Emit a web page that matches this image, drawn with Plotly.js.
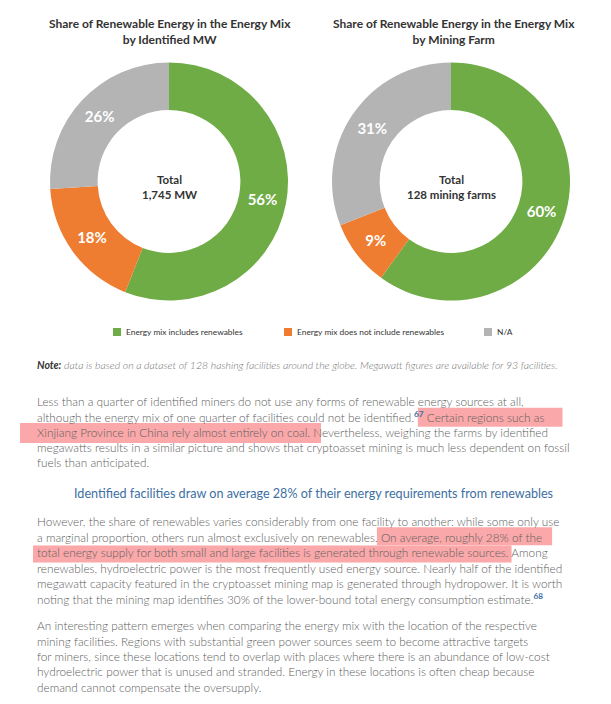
<!DOCTYPE html>
<html>
<head>
<meta charset="utf-8">
<script src="https://cdn.plot.ly/plotly-3.0.1.min.js"></script>
<style>
  html, body { margin: 0; padding: 0; background: #fff; }
  #chart { width: 611px; height: 704px; }
</style>
</head>
<body>
<div id="chart"></div>
<script>
// ---- Data ----
const categories = ["Energy mix includes renewables", "Energy mix does not include renewables", "N/A"];
const sliceColors = ["#6fac46", "#ee7d31", "#b4b4b4"];
const byMW = [56, 18, 26];
const byFarm = [60, 9, 31];
const chartTitles = [
  "Share of Renewable Energy in the Energy Mix<br>by Identified MW",
  "Share of Renewable Energy in the Energy Mix<br>by Mining Farm"
];
const centerLabels = ["Total<br>1,745 MW", "Total<br>128 mining farms"];
const noteText = "<b>Note:</b> <span style='color:#737373'>data is based on a dataset of 128 hashing facilities around the globe. Megawatt figures are available for 93 facilities.</span>";
const sup = n => "<span style='color:#3d6fa3'><b><sup>" + n + "</sup></b></span>";
const para1 = [
  "Less than a quarter of identified miners do not use any forms of renewable energy sources at all,",
  "although the energy mix of one quarter of facilities could not be identified." + sup("67") + " Certain regions such as",
  "Xinjiang Province in China rely almost entirely on coal. Nevertheless, weighing the farms by identified",
  "megawatts results in a similar picture and shows that cryptoasset mining is much less dependent on fossil",
  "fuels than anticipated."
];
const headingText = "Identified facilities draw on average 28% of their energy requirements from renewables";
const para2 = [
  "However, the share of renewables varies considerably from one facility to another: while some only use",
  "a marginal proportion, others run almost exclusively on renewables. On average, roughly 28% of the",
  "total energy supply for both small and large facilities is generated through renewable sources. Among",
  "renewables, hydroelectric power is the most frequently used energy source. Nearly half of the identified",
  "megawatt capacity featured in the cryptoasset mining map is generated through hydropower. It is worth",
  "noting that the mining map identifies 30% of the lower-bound total energy consumption estimate." + sup("68")
];
const para3 = [
  "An interesting pattern emerges when comparing the energy mix with the location of the respective",
  "mining facilities. Regions with substantial green power sources seem to become attractive targets",
  "for miners, since these locations tend to overlap with places where there is an abundance of low-cost",
  "hydroelectric power that is unused and stranded. Energy in these locations is often cheap because",
  "demand cannot compensate the oversupply."
];
// highlighted passages: paragraph, line, first words, last words
const highlights = [
  { para: "p1", line: 1, from: "Certain", to: "such as" },
  { para: "p1", line: 2, from: "Xinjiang", to: "coal. N" },
  { para: "p2", line: 1, from: "On average", to: "of the" },
  { para: "p2", line: 2, from: "total", to: "sources." }
];
// styling of the highlight boxes (left pad, right pad, top, bottom offsets in px)
const hlStyle = [[9, 18, -9, 10], [17, -1, -9, 11], [4, 10, -10, 8], [4, 3, -7, 10]];

// ---- Layout helpers ----
const W = 611, H = 704;
const px = x => x / W;
const py = y => 1 - y / H;
const FONT = "Lato, 'Open Sans', sans-serif";

function pieTrace(values, cx, cy, r) {
  return {
    type: "pie",
    values: values,
    labels: categories,
    marker: { colors: sliceColors, line: { width: 0 } },
    sort: false,
    direction: "clockwise",
    rotation: 0,
    hole: 0.6,
    texttemplate: "%{value}%",
    textposition: "inside",
    insidetextorientation: "horizontal",
    textfont: { family: FONT, size: 15, color: "#ffffff", weight: "bold" },
    showlegend: false,
    hoverinfo: "label+value",
    domain: { x: [px(cx - r), px(cx + r)], y: [py(cy + r), py(cy - r)] }
  };
}

const centers = [169, 451];
const data = [
  pieTrace(byMW, centers[0], 181.5, 119),
  pieTrace(byFarm, centers[1], 181.5, 119)
];

const annotations = [];
const shapes = [];

// chart titles
const titleCenters = [170, 454];
chartTitles.forEach((t, i) => {
  annotations.push({
    xref: "paper", yref: "paper", x: px(titleCenters[i]), y: py(32), xanchor: "center", yanchor: "middle",
    text: "<b>" + t + "</b>", showarrow: false, align: "center",
    font: { family: FONT, size: 12, color: "#333333" }
  });
});
// center labels
centerLabels.forEach((t, i) => {
  annotations.push({
    xref: "paper", yref: "paper", x: px(centers[i]), y: py(187), xanchor: "center", yanchor: "middle",
    text: "<b>" + t + "</b>", showarrow: false, align: "center",
    font: { family: FONT, size: 11.5, color: "#333333" }
  });
});
// legend (manual)
const legendX = [113, 284, 484];
categories.forEach((c, i) => {
  shapes.push({
    type: "rect", xref: "paper", yref: "paper",
    x0: px(legendX[i]), x1: px(legendX[i] + 8), y0: py(336), y1: py(328),
    fillcolor: sliceColors[i], line: { width: 0 }
  });
  annotations.push({
    xref: "paper", yref: "paper", x: px(legendX[i] + 11), y: py(332), xanchor: "left", yanchor: "middle",
    text: c, showarrow: false, font: { family: FONT, size: 8.4, color: "#333333" }
  });
});
// note
annotations.push({
  xref: "paper", yref: "paper", x: px(35), y: py(365), xanchor: "left", yanchor: "middle",
  text: "<i>" + noteText + "</i>", showarrow: false, font: { family: FONT, size: 10.5, color: "#333333", weight: 300 }
});

const lineIndex = {};
const lineY = {};
function addPara(key, lines, y0, step) {
  lineIndex[key] = []; lineY[key] = [];
  lines.forEach((l, i) => {
    lineIndex[key].push(annotations.length);
    lineY[key].push(y0 + i * step);
    annotations.push({
      xref: "paper", yref: "paper", x: px(35), y: py(y0 + i * step), xanchor: "left", yanchor: "middle",
      text: l, showarrow: false, font: { family: FONT, size: 11.8, color: "#606060", weight: 300 }
    });
  });
}
addPara("p1", para1, 401.5, 15.3);
annotations.push({
  xref: "paper", yref: "paper", x: px(313), y: py(493), xanchor: "center", yanchor: "middle",
  text: headingText, showarrow: false, font: { family: FONT, size: 12.6, color: "#3d6fa3" }
});
addPara("p2", para2, 521.7, 15.45);
addPara("p3", para3, 625.7, 15.35);

const layout = {
  width: W, height: H,
  margin: { l: 0, r: 0, t: 0, b: 0 },
  paper_bgcolor: "#ffffff",
  showlegend: false,
  annotations: annotations,
  shapes: shapes
};

Plotly.newPlot("chart", data, layout, { displayModeBar: false, staticPlot: true }).then(gd => {
  const extra = [];
  highlights.forEach((h, k) => {
    const idx = lineIndex[h.para][h.line];
    const el = gd.querySelector('.annotation[data-index="' + idx + '"] text.annotation-text');
    if (!el) return;
    const txt = el.textContent;
    const s = txt.indexOf(h.from);
    const e = txt.indexOf(h.to, s) + h.to.length - 1;
    if (s < 0 || e < s) return;
    const m = el.getScreenCTM();
    const toPage = (x, y) => { const p = el.ownerSVGElement.createSVGPoint(); p.x = x; p.y = y; return p.matrixTransform(m); };
    const a = el.getExtentOfChar(s), b = el.getExtentOfChar(e);
    const x0 = toPage(a.x, a.y).x, x1 = toPage(b.x + b.width, b.y).x;
    const st = hlStyle[k];
    const cy = lineY[h.para][h.line];
    extra.push({
      type: "rect", xref: "paper", yref: "paper", layer: "below",
      x0: px(x0 - st[0]), x1: px(x1 + st[1]), y0: py(cy + st[3]), y1: py(cy + st[2]),
      fillcolor: "rgba(247,110,112,0.6)", line: { width: 0 }
    });
  });
  return Plotly.relayout(gd, { shapes: shapes.concat(extra) });
});
</script>
</body>
</html>
